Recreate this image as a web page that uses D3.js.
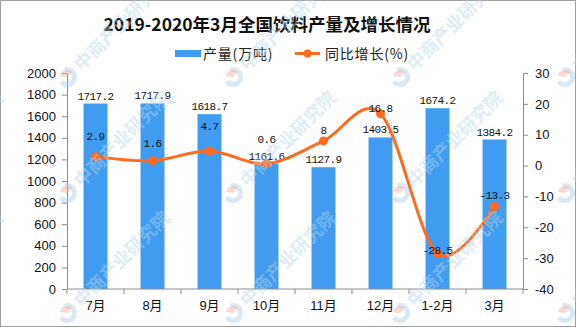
<!DOCTYPE html>
<html>
<head>
<meta charset="utf-8">
<script src="https://cdn.jsdelivr.net/npm/d3@7/dist/d3.min.js"></script>
<style>
  html, body { margin: 0; padding: 0; background: #fff; }
  svg { display: block; }
</style>
</head>
<body>
<svg id="chart" width="576" height="327"></svg>
<script>
// Monthly categories
const months = ["7月", "8月", "9月", "10月", "11月", "12月", "1-2月", "3月"];
// Beverage output, 10k tonnes
const output = [1717.2, 1717.9, 1618.7, 1161.6, 1127.9, 1403.5, 1674.2, 1384.2];
// Year-on-year growth, %
const growth = [2.9, 1.6, 4.7, 0.6, 8, 16.8, -28.5, -13.3];
// Axis ticks
const leftTicks = [0, 200, 400, 600, 800, 1000, 1200, 1400, 1600, 1800, 2000];
const rightTicks = [-40, -30, -20, -10, 0, 10, 20, 30];

const W = 576, H = 327;
const m = { left: 67, right: 523, top: 73, bottom: 289 };
const BAR = "#3f9cf0", LINE = "#ff6a1f", AXIS = "#8c8c8c";
const NUM_FONT = "'Liberation Sans', 'DejaVu Sans', sans-serif";
const CJK_FONT = "'Noto Sans CJK SC', 'Noto Sans', sans-serif";
const LABEL_FONT = "'Liberation Mono', 'DejaVu Sans Mono', monospace";

const svg = d3.select("#chart");

// outer frame
svg.append("rect").attr("x", 0.5).attr("y", 0.5).attr("width", W - 1).attr("height", H - 1)
  .attr("fill", "#fff").attr("stroke", "#a0a0a0");

const x = d3.scaleBand().domain(months).range([m.left, m.right]).paddingInner(0.58).paddingOuter(0.29);
const yL = d3.scaleLinear().domain([0, 2000]).range([m.bottom, m.top]);
const yR = d3.scaleLinear().domain([-40, 30]).range([m.bottom, m.top]);

// title
svg.append("text").attr("x", 267).attr("y", 31).attr("text-anchor", "middle")
  .attr("font-family", CJK_FONT).attr("font-weight", "bold").attr("font-size", 17.5)
  .attr("fill", "#111").text("2019-2020年3月全国饮料产量及增长情况");

// legend
const lg = svg.append("g");
lg.append("rect").attr("x", 175).attr("y", 50).attr("width", 26).attr("height", 7).attr("fill", BAR);
lg.append("text").attr("x", 203).attr("y", 58.5).attr("font-family", CJK_FONT).attr("font-size", 14)
  .attr("letter-spacing", 0.8).attr("fill", "#222").text("产量(万吨)");
lg.append("line").attr("x1", 295).attr("x2", 320).attr("y1", 53.5).attr("y2", 53.5)
  .attr("stroke", LINE).attr("stroke-width", 3);
lg.append("circle").attr("cx", 307.5).attr("cy", 53.5).attr("r", 4).attr("fill", LINE);
lg.append("text").attr("x", 325).attr("y", 58.5).attr("font-family", CJK_FONT).attr("font-size", 14)
  .attr("letter-spacing", 0.8).attr("fill", "#222").text("同比增长(%)");

// bars
svg.append("g").selectAll("rect").data(output).join("rect")
  .attr("x", (d, i) => x(months[i]))
  .attr("y", d => yL(d))
  .attr("width", x.bandwidth())
  .attr("height", d => yL(0) - yL(d))
  .attr("fill", BAR);

// axes
const styleAxis = g => {
  g.select(".domain").attr("stroke", AXIS);
  g.selectAll(".tick line").attr("stroke", AXIS);
  g.selectAll(".tick text").attr("fill", "#111").attr("font-size", 13).attr("font-family", NUM_FONT);
};

svg.append("g").attr("transform", `translate(${m.left},0)`)
  .call(d3.axisLeft(yL).tickValues(leftTicks).tickSize(5).tickSizeOuter(0).tickPadding(6).tickFormat(d => String(d)))
  .call(styleAxis);

svg.append("g").attr("transform", `translate(${m.right},0)`)
  .call(d3.axisRight(yR).tickValues(rightTicks).tickSize(5).tickSizeOuter(0).tickPadding(7).tickFormat(d => String(d)))
  .call(styleAxis);

// x axis: ticks at category boundaries
const xg = svg.append("g").attr("transform", `translate(0,${m.bottom})`);
xg.append("line").attr("x1", m.left).attr("x2", m.right).attr("stroke", AXIS);
const step = x.step();
const bounds = d3.range(months.length + 1).map(i => m.left + i * step);
xg.selectAll("line.tk").data(bounds).join("line").attr("class", "tk")
  .attr("x1", d => d).attr("x2", d => d).attr("y1", 0).attr("y2", 5).attr("stroke", AXIS);
xg.selectAll("text").data(months).join("text")
  .attr("x", d => x(d) + x.bandwidth() / 2).attr("y", 20.5).attr("text-anchor", "middle")
  .attr("font-family", `${NUM_FONT.split(",")[0]}, ${CJK_FONT}`).attr("font-size", 13).attr("fill", "#111")
  .text(d => d);

// bar value labels
svg.append("g").selectAll("text").data(output).join("text")
  .attr("x", (d, i) => x(months[i]) + x.bandwidth() / 2)
  .attr("y", d => yL(d) - 4)
  .attr("text-anchor", "middle").attr("font-family", LABEL_FONT).attr("font-size", 11)
  .attr("letter-spacing", -0.6).attr("fill", "#111")
  .text(d => d.toFixed(1));

// growth line
const cx = i => x(months[i]) + x.bandwidth() / 2;
const line = d3.line().x((d, i) => cx(i)).y(d => yR(d)).curve(d3.curveCardinal.tension(0));
svg.append("path").datum(growth).attr("d", line)
  .attr("fill", "none").attr("stroke", LINE).attr("stroke-width", 3).attr("stroke-linejoin", "round");
svg.append("g").selectAll("circle").data(growth).join("circle")
  .attr("cx", (d, i) => cx(i)).attr("cy", d => yR(d)).attr("r", 4.5).attr("fill", LINE);

// growth labels, lifted above each point
const lift = [17, 14, 21, 21, 7, 2, 0, 8];
svg.append("g").selectAll("text").data(growth).join("text")
  .attr("x", (d, i) => cx(i))
  .attr("y", (d, i) => yR(d) - lift[i])
  .attr("text-anchor", "middle").attr("font-family", LABEL_FONT).attr("font-size", 11)
  .attr("letter-spacing", -0.6).attr("fill", "#111")
  .text(d => String(d));

// brand watermark tiles
const wm = svg.append("g").attr("pointer-events", "none");
const cols = [-99, 67, 233, 400, 565], rows = [77, 193, 313];
rows.forEach(ry => cols.forEach(rx => {
  const g = wm.append("g").attr("transform", `translate(${rx},${ry}) rotate(-45)`);
  g.append("path").attr("d", d3.arc()({ innerRadius: 5, outerRadius: 10, startAngle: Math.PI * 0.15, endAngle: Math.PI * 1.55 }))
    .attr("fill", "#a9cde6").attr("opacity", 0.45);
  g.append("path").attr("d", d3.arc()({ innerRadius: 0, outerRadius: 7, startAngle: -Math.PI * 0.2, endAngle: Math.PI * 0.5 }))
    .attr("fill", "#f1aa9c").attr("opacity", 0.45);
  g.append("text").attr("x", 14).attr("y", 7).attr("font-family", CJK_FONT).attr("font-size", 18)
    .attr("font-weight", "bold").attr("fill", "#b7d6ec").attr("opacity", 0.45).text("中商产业研究院");
}));
</script>
</body>
</html>
